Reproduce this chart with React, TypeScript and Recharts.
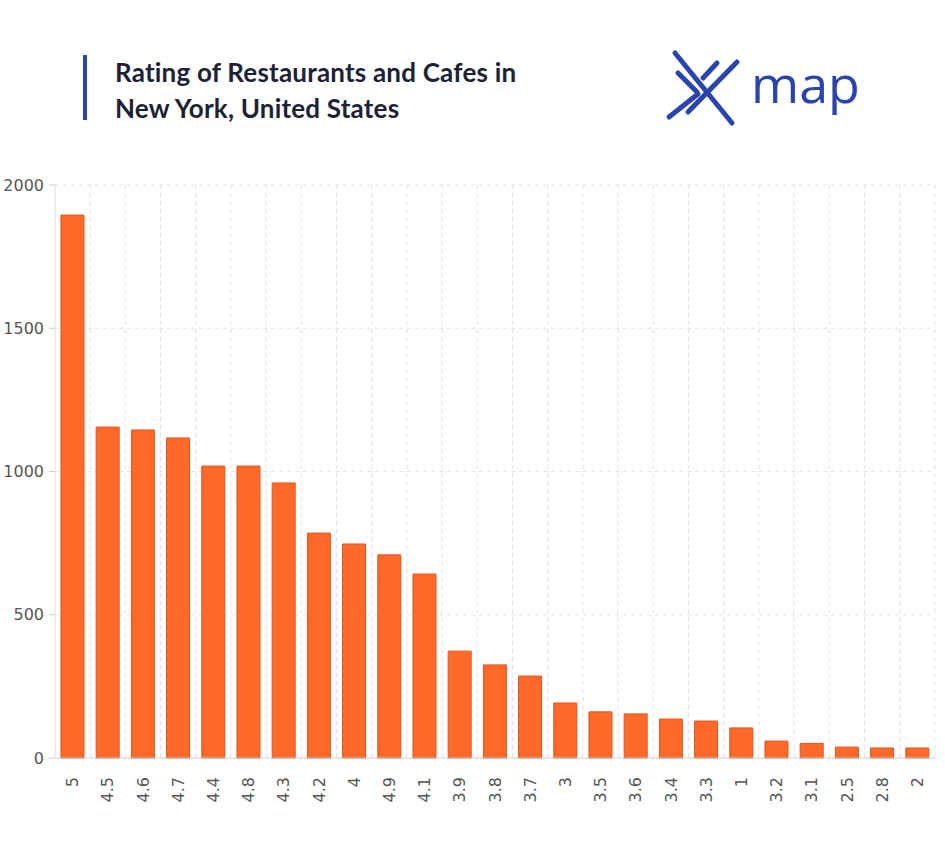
import { BarChart, Bar, XAxis, YAxis, CartesianGrid } from "recharts";

// ratings, in the order they're sorted on the chart (by count)
const ratings = ["5", "4.5", "4.6", "4.7", "4.4", "4.8", "4.3", "4.2", "4", "4.9", "4.1", "3.9", "3.8", "3.7", "3", "3.5", "3.6", "3.4", "3.3", "1", "3.2", "3.1", "2.5", "2.8", "2"];
const counts = [1895, 1155, 1145, 1117, 1019, 1019, 960, 785, 747, 709, 642, 373, 325, 286, 192, 161, 154, 136, 129, 105, 59, 51, 38, 35, 35];
const yTicks = [0, 500, 1000, 1500, 2000];

const data = ratings.map((r, i) => ({ rating: r, count: counts[i] }));

const AXIS_FONT = "'DejaVu Sans', Verdana, sans-serif";

function RotatedTick({ x, y, payload }: any) {
  return (
    <text
      x={0}
      y={0}
      dy="0.35em"
      transform={`translate(${x},${y + 11}) rotate(-90)`}
      textAnchor="end"
      fill="#555"
      fontSize={16}
      fontFamily={AXIS_FONT}
    >
      {payload.value}
    </text>
  );
}

function Logo() {
  const c = "#2b44ad";
  return (
    <svg width={220} height={100} style={{ position: "absolute", left: 655, top: 40 }}>
      <g stroke={c} strokeWidth={5} strokeLinecap="round" fill="none">
        <line x1={20} y1={13} x2={77} y2={83} />
        <line x1={82} y1={22} x2={33} y2={72} />
        <line x1={23} y1={33} x2={42} y2={52} />
        <line x1={62} y1={23} x2={48} y2={38} />
        <line x1={14} y1={77} x2={43} y2={54} />
      </g>
      <text x={96} y={63} fill={c} fontSize={52} fontWeight={500} fontFamily="'Open Sans', sans-serif">
        map
      </text>
    </svg>
  );
}

export default function App() {
  return (
    <div style={{ position: "absolute", left: 0, top: 0, width: 945, height: 850, background: "#fff" }}>
      <div style={{ position: "absolute", left: 83, top: 55, width: 4, height: 65, background: "#2c45a8" }} />
      <div
        style={{
          position: "absolute",
          left: 115,
          top: 54,
          fontFamily: "Lato, sans-serif",
          fontWeight: 700,
          fontSize: 26,
          letterSpacing: 0.2,
          lineHeight: "36px",
          color: "#1b2236",
        }}
      >
        Rating of Restaurants and Cafes in
        <br />
        New York, United States
      </div>
      <Logo />

      <BarChart
        width={945}
        height={850}
        data={data}
        margin={{ top: 185, right: 10, left: 0, bottom: 0 }}
        barCategoryGap="17%"
      >
        <CartesianGrid
          stroke="#e4dfec"
          strokeDasharray="4 4"
          horizontalValues={[500, 1000, 1500, 2000]}
          verticalCoordinatesGenerator={({ offset }: any) =>
            ratings.map((_, i) => offset.left + ((i + 1) * offset.width) / ratings.length)
          }
        />
        <XAxis
          dataKey="rating"
          interval={0}
          height={92}
          axisLine={{ stroke: "#ccc" }}
          tickLine={false}
          tick={<RotatedTick />}
        />
        <YAxis
          width={55}
          domain={[0, 2000]}
          ticks={yTicks}
          axisLine={{ stroke: "#ddd" }}
          tickLine={{ stroke: "#ccc" }}
          tickSize={6}
          tickMargin={5}
          tick={{ fill: "#555", fontSize: 16, fontFamily: AXIS_FONT }}
        />
        <Bar dataKey="count" fill="#ff6a2b" stroke="#e0561a" strokeWidth={1} isAnimationActive={false} />
      </BarChart>
    </div>
  );
}
